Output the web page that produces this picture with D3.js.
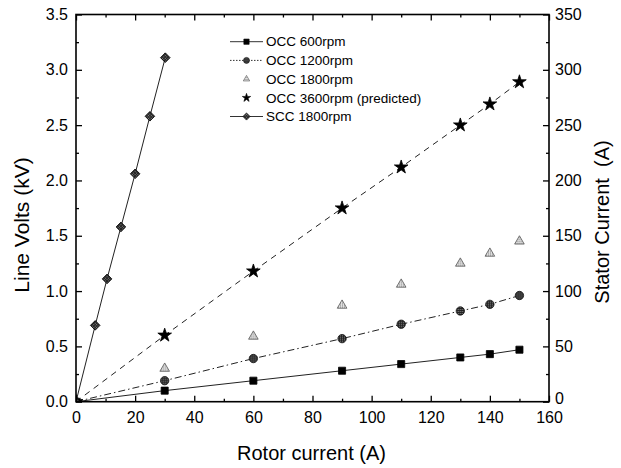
<!DOCTYPE html>
<html>
<head>
<meta charset="utf-8">
<script src="https://cdn.jsdelivr.net/npm/d3@7"></script>
<style>
  html, body { margin: 0; padding: 0; background: #fff; }
  svg { display: block; font-family: "Liberation Sans", Arial, sans-serif; }
</style>
</head>
<body>
<svg id="chart" width="621" height="468"></svg>
<script>
// Rotor current (A) for the open-circuit tests
const rotorCurrent = [0, 30, 60, 90, 110, 130, 140, 150];
// Open-circuit line volts (kV)
const occ600  = [0, 0.10, 0.19, 0.28, 0.34, 0.40, 0.43, 0.47];
const occ1200 = [0, 0.19, 0.39, 0.57, 0.70, 0.82, 0.88, 0.96];
const occ1800 = [0, 0.30, 0.59, 0.87, 1.06, 1.25, 1.34, 1.45];
const occ3600 = [0, 0.60, 1.18, 1.75, 2.12, 2.50, 2.69, 2.89];
// Short-circuit test at 1800 rpm: rotor current (A) vs stator current (A)
const sccRotor  = [0, 6.5, 10.5, 15.2, 20, 25, 30.2];
const sccStator = [0, 69, 111, 158, 206, 258, 311];

const xTicks = [0, 20, 40, 60, 80, 100, 120, 140, 160];
const voltTicks = [0, 0.5, 1.0, 1.5, 2.0, 2.5, 3.0, 3.5];
const ampTicks = [0, 50, 100, 150, 200, 250, 300, 350];

const legendLabels = ["OCC 600rpm", "OCC 1200rpm", "OCC 1800rpm", "OCC 3600rpm (predicted)", "SCC 1800rpm"];

const svg = d3.select("#chart");
const m = { left: 76, right: 549, top: 14.5, bottom: 401.7 };

const x = d3.scaleLinear().domain([0, 160]).range([m.left, m.right]);
const yV = d3.scaleLinear().domain([0, 3.5]).range([m.bottom, m.top]);
const yA = d3.scaleLinear().domain([0, 350]).range([m.bottom, m.top]);

const defs = svg.append("defs");
defs.append("clipPath").attr("id", "plotClip")
  .append("rect").attr("x", m.left).attr("y", m.top)
  .attr("width", m.right - m.left).attr("height", m.bottom - m.top);

// hatched fills for the shaded markers
const hatch = defs.append("pattern").attr("id", "hatchDark")
  .attr("patternUnits", "userSpaceOnUse").attr("width", 2).attr("height", 2);
hatch.append("rect").attr("width", 2).attr("height", 2).attr("fill", "#222");
hatch.append("rect").attr("width", 1).attr("height", 1).attr("fill", "#888");
const hatchL = defs.append("pattern").attr("id", "hatchLight")
  .attr("patternUnits", "userSpaceOnUse").attr("width", 2).attr("height", 2);
hatchL.append("rect").attr("width", 2).attr("height", 2).attr("fill", "#e4e4e4");
hatchL.append("rect").attr("width", 1).attr("height", 1).attr("fill", "#777");

const series = [
  { name: legendLabels[0], xs: rotorCurrent, ys: occ600, y: yV, drawLine: true, legLine: true, dash: null,
    sym: d3.symbolSquare, rot: 0, size: 50, legSize: 28, fill: "#000", stroke: "#000" },
  { name: legendLabels[1], xs: rotorCurrent, ys: occ1200, y: yV, drawLine: true, legLine: true, dash: "7,3,1.5,3",
    sym: d3.symbolCircle, rot: 0, size: 55, legSize: 28, fill: "url(#hatchDark)", stroke: "#111" },
  { name: legendLabels[2], xs: rotorCurrent, ys: occ1800, y: yV, drawLine: false, legLine: false, dash: null,
    sym: d3.symbolTriangle, rot: 0, size: 40, legSize: 18, fill: "url(#hatchLight)", stroke: "#555" },
  { name: legendLabels[3], xs: rotorCurrent, ys: occ3600, y: yV, drawLine: true, legLine: false, dash: "6,5",
    sym: d3.symbolStar, rot: 0, size: 58, legSize: 22, fill: "#000", stroke: "#000" },
  { name: legendLabels[4], xs: sccRotor, ys: sccStator, y: yA, drawLine: true, legLine: true, dash: null,
    sym: d3.symbolSquare, rot: 45, size: 46, legSize: 26, fill: "url(#hatchDark)", stroke: "#000" }
];

const plot = svg.append("g").attr("clip-path", "url(#plotClip)");

series.forEach(s => {
  const pts = s.xs.map((v, i) => [v, s.ys[i]]);
  if (s.drawLine) {
    plot.append("path")
      .attr("d", d3.line().x(d => x(d[0])).y(d => s.y(d[1]))(pts))
      .attr("fill", "none").attr("stroke", "#222").attr("stroke-width", 1)
      .attr("stroke-dasharray", s.dash);
  }
  plot.selectAll(null).data(pts).enter().append("path")
    .attr("transform", d => `translate(${x(d[0])},${s.y(d[1])}) rotate(${s.rot})`)
    .attr("d", d3.symbol().type(s.sym).size(s.size))
    .attr("fill", s.fill).attr("stroke", s.stroke).attr("stroke-width", 0.8);
});

// axes with inward ticks
const fmtV = d3.format(".1f");
function addAxis(axis, transform, values, fmt, size) {
  const g = svg.append("g").attr("transform", transform)
    .call(axis.tickValues(values).tickFormat(fmt).tickSizeInner(size).tickSizeOuter(0).tickPadding(6));
  g.select(".domain").remove();
  g.selectAll("line").attr("stroke", "#000").attr("stroke-width", 1.3);
  g.selectAll("text").attr("font-size", 16).attr("fill", "#000")
    .attr("font-family", "Liberation Sans, Arial, sans-serif");
  return g;
}
const xMinor = d3.range(10, 160, 20);
const vMinor = d3.range(0.25, 3.5, 0.5);
const aMinor = d3.range(25, 350, 50);

addAxis(d3.axisBottom(x), `translate(0,${m.bottom})`, xTicks, d3.format("d"), -6)
  .selectAll("text").attr("dy", "0.95em");
addAxis(d3.axisBottom(x), `translate(0,${m.bottom})`, xMinor, "", -3);
addAxis(d3.axisTop(x), `translate(0,${m.top})`, xTicks, "", 6).selectAll("line").attr("y2", 6);
addAxis(d3.axisTop(x), `translate(0,${m.top})`, xMinor, "", 3).selectAll("line").attr("y2", 3);
addAxis(d3.axisLeft(yV), `translate(${m.left},0)`, voltTicks, fmtV, -6)
  .selectAll("text").attr("x", -8);
addAxis(d3.axisLeft(yV), `translate(${m.left},0)`, vMinor, "", -3);
const rightAx = addAxis(d3.axisRight(yA), `translate(${m.right},0)`, ampTicks, d3.format("d"), -6);
rightAx.selectAll("text").attr("x", 6);
// lift the bottom "0" slightly so it clears the x-axis "160"
rightAx.selectAll("text").filter(d => d === 0).attr("dy", "0.1em");
addAxis(d3.axisRight(yA), `translate(${m.right},0)`, aMinor, "", -3);

// frame
svg.append("rect").attr("x", m.left).attr("y", m.top)
  .attr("width", m.right - m.left).attr("height", m.bottom - m.top)
  .attr("fill", "none").attr("stroke", "#000").attr("stroke-width", 1.6);

// axis titles
svg.append("text").attr("x", (m.left + m.right) / 2 - 1).attr("y", 460)
  .attr("text-anchor", "middle").attr("font-size", 20).text("Rotor current (A)");
svg.append("text").attr("transform", "translate(29,225) rotate(-90)")
  .attr("text-anchor", "middle").attr("font-size", 21).text("Line Volts (kV)");
svg.append("text").attr("transform", "translate(609,222) rotate(-90)")
  .attr("text-anchor", "middle").attr("font-size", 20).attr("xml:space", "preserve")
  .style("white-space", "pre").text("Stator Current  (A)");

// legend
const leg = svg.append("g");
series.forEach((s, i) => {
  const yy = 41.7 + i * 18.7;
  if (s.legLine) {
    leg.append("line").attr("x1", 230).attr("x2", 263).attr("y1", yy).attr("y2", yy)
      .attr("stroke", "#333").attr("stroke-width", 1).attr("stroke-dasharray", s.dash ? "1.5,1.5" : null);
  }
  leg.append("path").attr("transform", `translate(246.5,${yy}) rotate(${s.rot})`)
    .attr("d", d3.symbol().type(s.sym).size(s.legSize))
    .attr("fill", s.fill).attr("stroke", s.stroke).attr("stroke-width", 0.6);
  leg.append("text").attr("x", 266).attr("y", yy).attr("dy", "0.35em")
    .attr("font-size", 13.5).text(s.name);
});
</script>
</body>
</html>
